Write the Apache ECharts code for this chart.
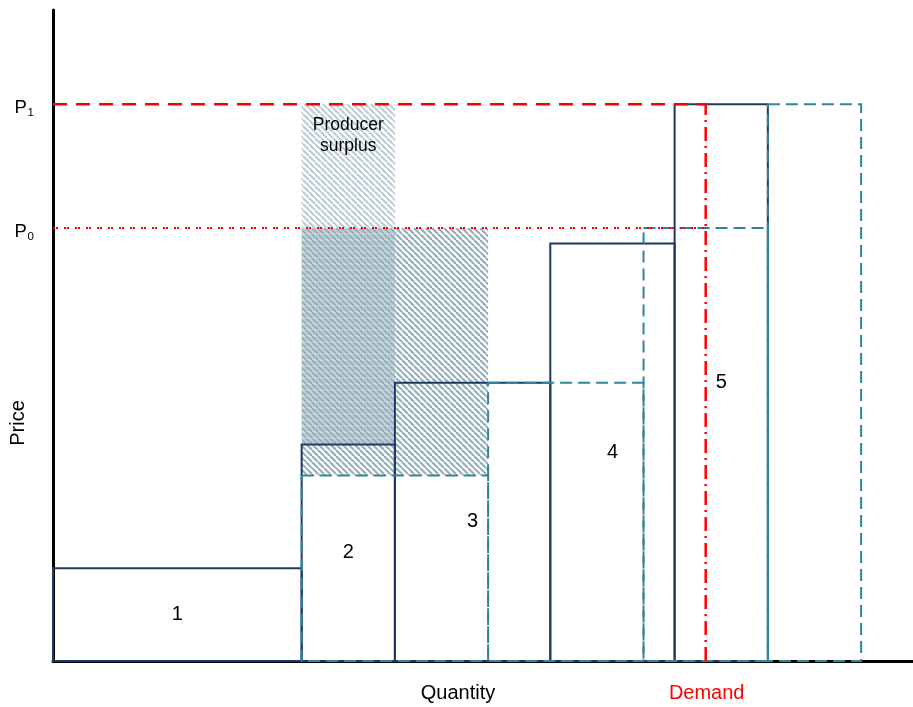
<!DOCTYPE html>
<html><head><meta charset="utf-8">
<script src="https://cdn.jsdelivr.net/npm/echarts@6/dist/echarts.min.js"></script>
<style>html,body{margin:0;padding:0;background:#fff}#chart{width:913px;height:707px}</style>
</head><body><div id="chart"></div>
<script>
// ---- data ----
const plantLabels = ['1', '2', '3', '4', '5'];
const originalQuantities = [8, 3, 5, 4, 3];
const originalPrices = [3, 7, 9, 13.5, 18];
const shiftedStart = 8;
const shiftedQuantities = [6, 5, 4, 3];
const shiftedPrices = [6, 9, 14, 18];
const priceP0 = 14;
const priceP1 = 18;
const demandQuantity = 21;
const quantityNameAt = 13;
const xAxisMax = 27.67;
const yAxisMax = 21.05;

// ---- derived ----
function steps(start, qty, prices) {
  let x = start;
  return qty.map((q, i) => { const r = [x, x + q, prices[i]]; x += q; return r; });
}
const originalBlocks = steps(0, originalQuantities, originalPrices);
const shiftedBlocks = steps(shiftedStart, shiftedQuantities, shiftedPrices);
const surplusAreas = [
  [shiftedBlocks[0][0], shiftedBlocks[0][1], shiftedPrices[0], priceP0],
  [originalBlocks[1][0], originalBlocks[1][1], originalPrices[1], priceP1]
];

const NAVY = '#203864';
const TEAL = '#31849B';
const RED = '#FF0000';
const FONT = '"Liberation Sans", Arial, sans-serif';

function makeHatch(color, shift) {
  const s = 6;
  const c = document.createElement('canvas');
  c.width = s; c.height = s;
  const g = c.getContext('2d');
  g.strokeStyle = color; g.lineWidth = 2;
  for (const o of [-2 * s, -s, 0, s, 2 * s]) {
    g.beginPath(); g.moveTo(o + shift, 0); g.lineTo(o + shift + s, s); g.stroke();
  }
  return c;
}
const hatchNew = { image: makeHatch('rgba(105,145,160,0.75)', 0), repeat: 'repeat' };
const hatchOld = { image: makeHatch('rgba(140,170,182,0.6)', 3), repeat: 'repeat' };

const chart = echarts.init(document.getElementById('chart'));
chart.setOption({
  animation: false,
  backgroundColor: '#fff',
  grid: { left: 53, right: 0, top: 10, bottom: 46 },
  xAxis: {
    type: 'value', min: 0, max: xAxisMax,
    axisLine: { show: true, lineStyle: { color: '#000', width: 3 } },
    axisTick: { show: false }, axisLabel: { show: false }, splitLine: { show: false }
  },
  yAxis: {
    type: 'value', min: 0, max: yAxisMax,
    axisLine: { show: true, lineStyle: { color: '#000', width: 3 } },
    axisTick: { show: false }, axisLabel: { show: false }, splitLine: { show: false }
  },
  graphic: [{
    type: 'text', x: 18, y: 423, rotation: Math.PI / 2,
    style: { text: 'Price', align: 'center', verticalAlign: 'middle', fontSize: 20, fontFamily: FONT, fill: '#000' }
  }],
  series: [
    {
      type: 'custom', name: 'Producer surplus', z: 1,
      data: surplusAreas,
      renderItem: function (params, api) {
        const a = api.coord([api.value(0), api.value(3)]);
        const b = api.coord([api.value(1), api.value(2)]);
        const children = [{
          type: 'rect',
          shape: { x: a[0], y: a[1], width: b[0] - a[0], height: b[1] - a[1] },
          style: { fill: params.dataIndex === 0 ? hatchNew : hatchOld }
        }];
        if (params.dataIndex === 1) {
          children.push({
            type: 'text', x: (a[0] + b[0]) / 2, y: a[1] + 31, z2: 10,
            style: { text: 'Producer\nsurplus', align: 'center', verticalAlign: 'middle', lineHeight: 21,
                     fontSize: 17.5, fontFamily: FONT, fill: '#000' }
          });
        }
        return { type: 'group', children: children };
      }
    },
    {
      type: 'custom', name: 'Original supply', z: 3,
      data: originalBlocks,
      renderItem: function (params, api) {
        const a = api.coord([api.value(0), api.value(2)]);
        const b = api.coord([api.value(1), 0]);
        return {
          type: 'group', children: [
            { type: 'rect', shape: { x: a[0], y: a[1], width: b[0] - a[0], height: b[1] - a[1] },
              style: { fill: 'none', stroke: NAVY, lineWidth: 2 } },
            { type: 'text', x: (a[0] + b[0]) / 2, y: (a[1] + b[1]) / 2,
              style: { text: plantLabels[params.dataIndex], align: 'center', verticalAlign: 'middle',
                       fontSize: 20, fontFamily: FONT, fill: '#000' } }
          ]
        };
      }
    },
    {
      type: 'custom', name: 'Shifted supply', z: 4,
      data: shiftedBlocks,
      renderItem: function (params, api) {
        const a = api.coord([api.value(0), api.value(2)]);
        const b = api.coord([api.value(1), 0]);
        return { type: 'rect', shape: { x: a[0], y: a[1], width: b[0] - a[0], height: b[1] - a[1] },
                 style: { fill: 'none', stroke: TEAL, lineWidth: 2, lineDash: [12, 6] } };
      }
    },
    {
      type: 'line', name: 'P1', z: 5, symbol: 'none',
      data: [[0, priceP1], [demandQuantity, priceP1]],
      lineStyle: { color: RED, width: 2.5, type: [14, 9] }
    },
    {
      type: 'line', name: 'P0', z: 5, symbol: 'none',
      data: [[0, priceP0], [demandQuantity, priceP0]],
      lineStyle: { color: RED, width: 2, type: [2, 1, 2, 6] }
    },
    {
      type: 'line', name: 'Demand', z: 5, symbol: 'none',
      data: [[demandQuantity, 0], [demandQuantity, priceP1]],
      lineStyle: { color: RED, width: 2.5, type: [14, 5, 2, 5] }
    },
    {
      type: 'custom', name: 'Annotations', z: 6, clip: false,
      data: [[quantityNameAt, 0, 0], [demandQuantity, 0, 1], [0, priceP1, 2], [0, priceP0, 3]],
      renderItem: function (params, api) {
        const p = api.coord([api.value(0), api.value(1)]);
        const kind = api.value(2);
        if (kind === 0 || kind === 1) {
          return { type: 'text', x: p[0] + 1, y: p[1] + 32,
                   style: { text: kind === 0 ? 'Quantity' : 'Demand', align: 'center', verticalAlign: 'middle',
                            fontSize: 20, fontFamily: FONT, fill: kind === 0 ? '#000' : RED } };
        }
        const sub = kind === 2 ? '1' : '0';
        return { type: 'group', children: [
          { type: 'text', x: p[0] - 38.5, y: p[1] + 4,
            style: { text: 'P', align: 'left', verticalAlign: 'middle', fontSize: 18.5, fontFamily: FONT, fill: '#000' } },
          { type: 'text', x: p[0] - 25.5, y: p[1] + 9,
            style: { text: sub, align: 'left', verticalAlign: 'middle', fontSize: 11.5, fontFamily: FONT, fill: '#000' } }
        ] };
      }
    }
  ]
});
</script>
</body></html>
